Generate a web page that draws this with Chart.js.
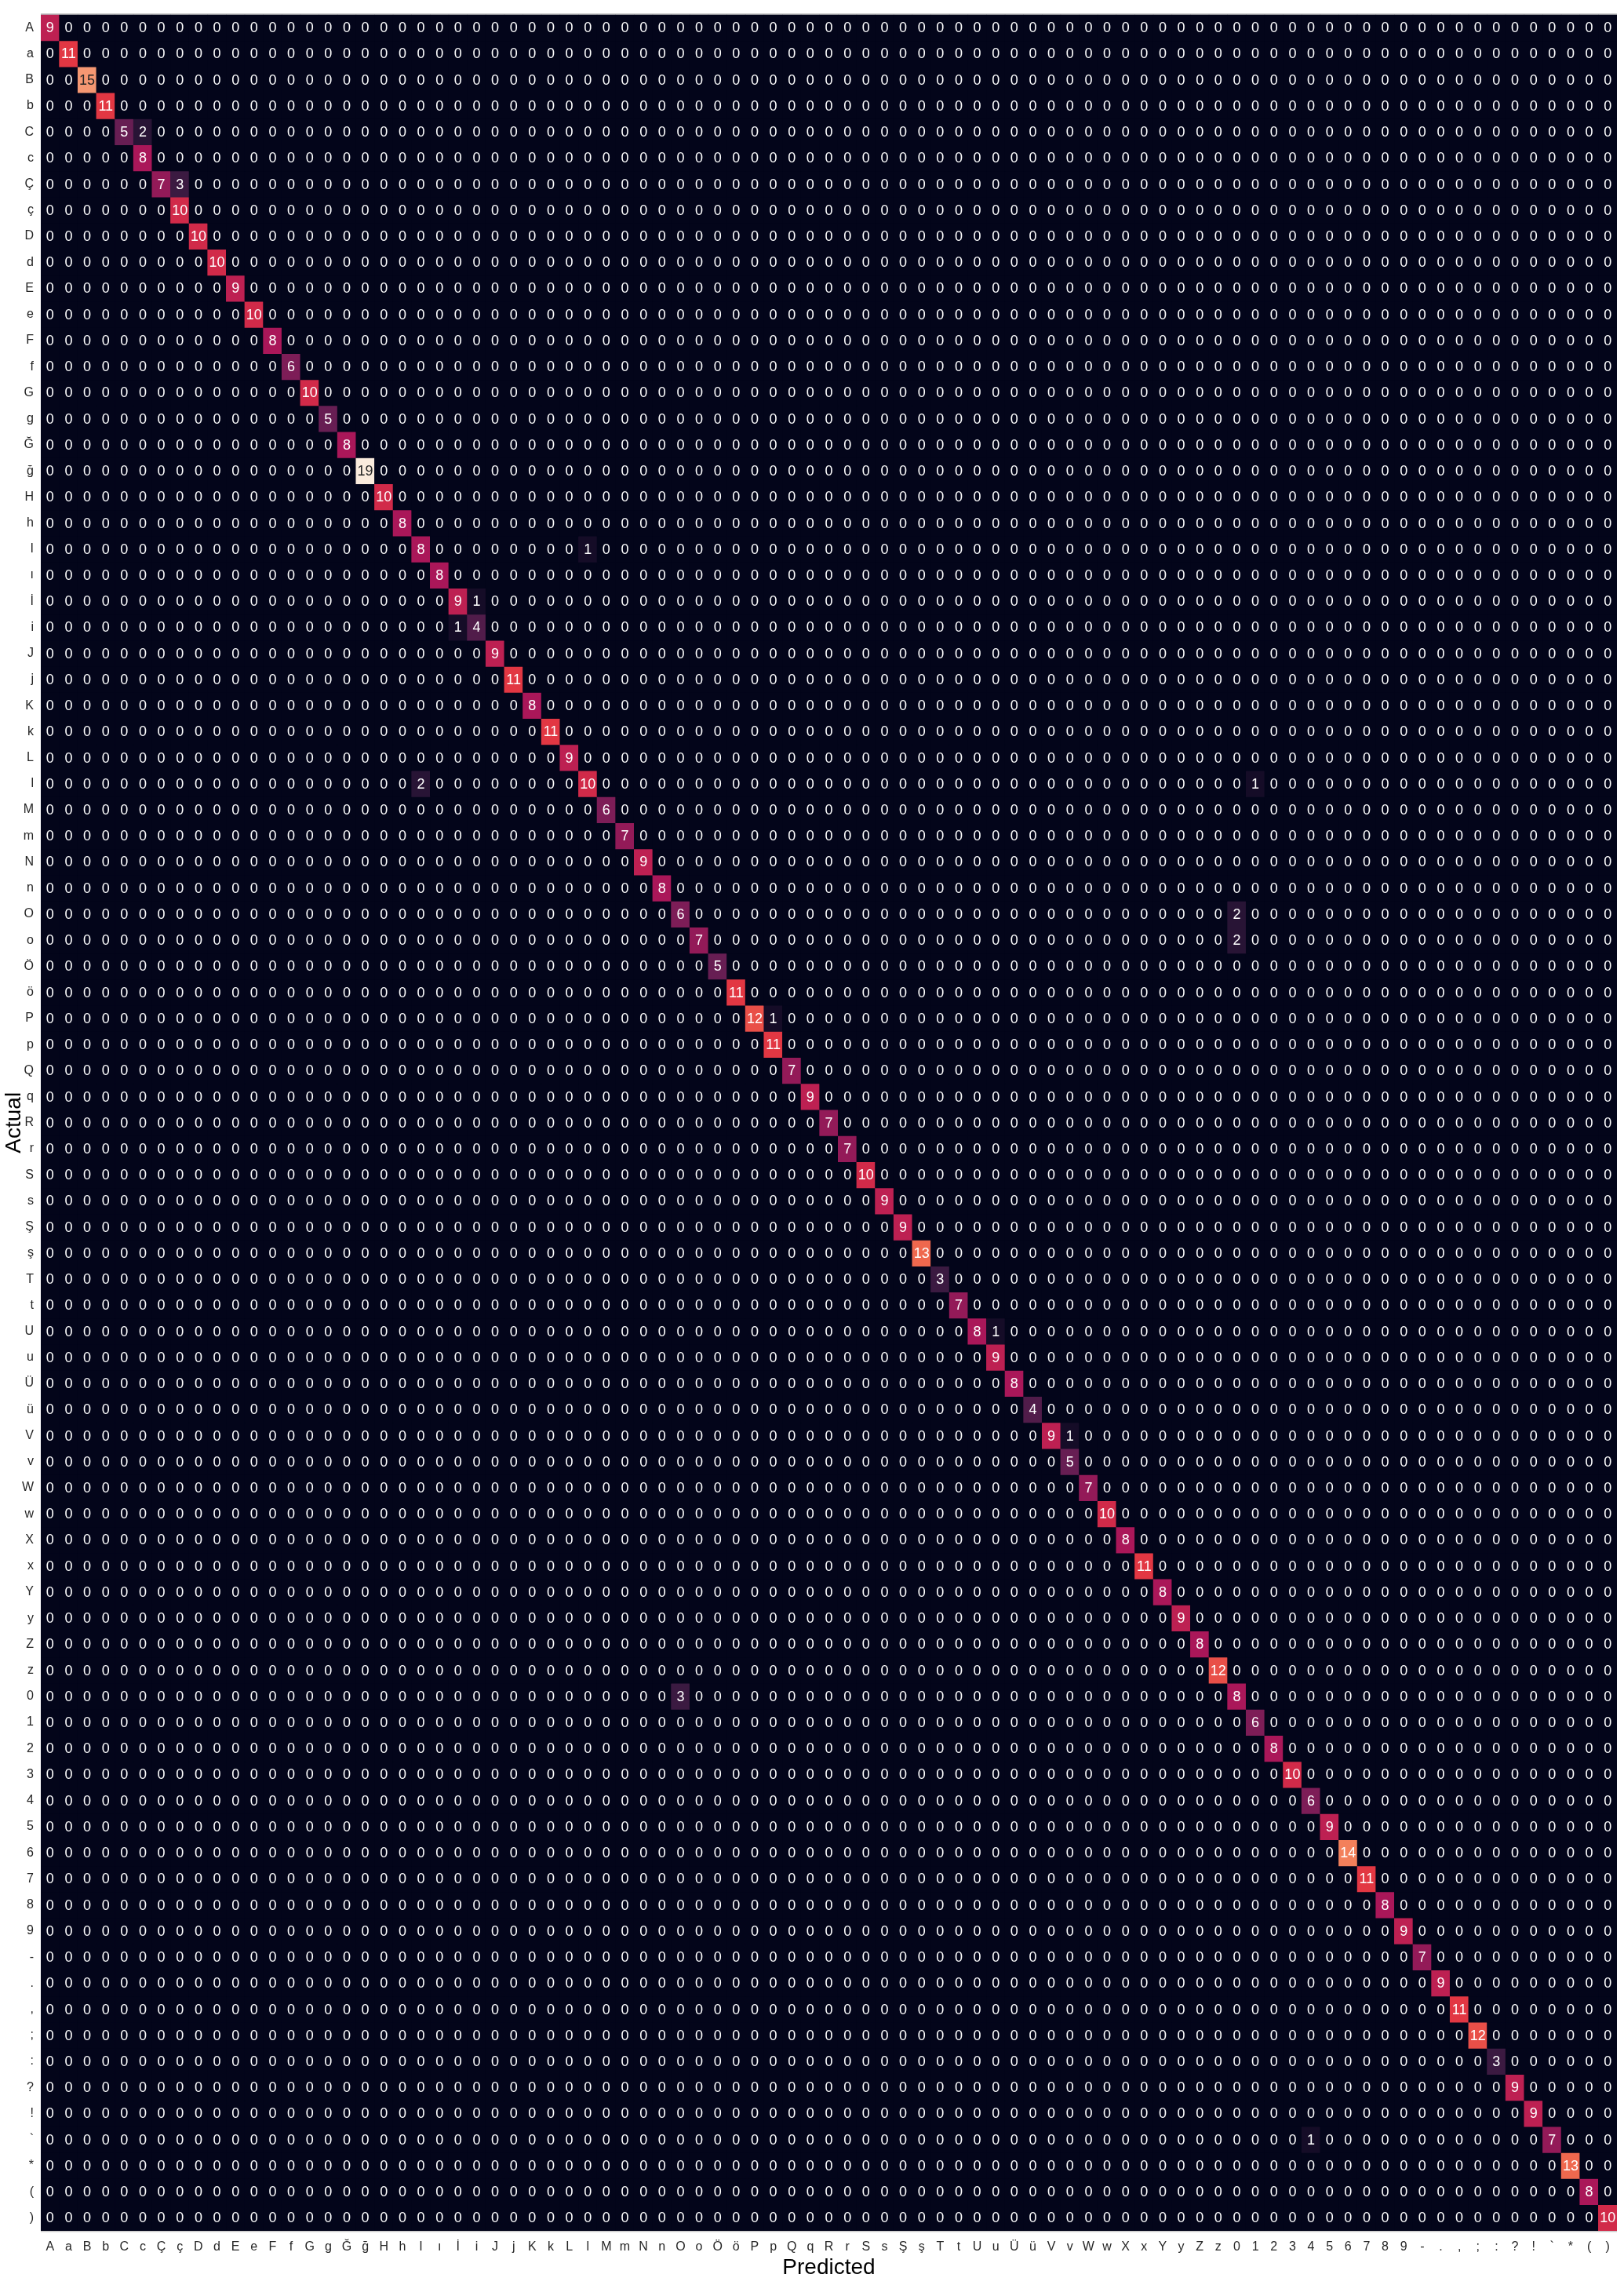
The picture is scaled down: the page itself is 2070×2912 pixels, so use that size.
<!DOCTYPE html>
<html>
<head>
<meta charset="utf-8">
<script src="https://cdn.jsdelivr.net/npm/chart.js@4.4.1/dist/chart.umd.min.js"></script>
<style>
  html, body { margin: 0; padding: 0; background: #ffffff; }
  canvas { display: block; }
</style>
</head>
<body>
<canvas id="c" width="2070" height="2912"></canvas>
<script>
// ---- data ----
const actualLabels = ['A','a','B','b','C','c','Ç','ç','D','d','E','e','F','f','G','g','Ğ','ğ','H','h','I','ı','İ','i','J','j','K','k','L','l','M','m','N','n','O','o','Ö','ö','P','p','Q','q','R','r','S','s','Ş','ş','T','t','U','u','Ü','ü','V','v','W','w','X','x','Y','y','Z','z','0','1','2','3','4','5','6','7','8','9','-','.',',',';',':','?','!','`','*','(',')'];
const predictedLabels = ['A','a','B','b','C','c','Ç','ç','D','d','E','e','F','f','G','g','Ğ','ğ','H','h','I','ı','İ','i','J','j','K','k','L','l','M','m','N','n','O','o','Ö','ö','P','p','Q','q','R','r','S','s','Ş','ş','T','t','U','u','Ü','ü','V','v','W','w','X','x','Y','y','Z','z','0','1','2','3','4','5','6','7','8','9','-','.',',',';',':','?','!','`','*','(',')'];
// correct predictions (diagonal), in label order
const diagonalCounts = [9,11,15,11,5,8,7,10,10,10, 9,10,8,6,10,5,8,19,10,8, 8,8,9,4,9,11,8,11,9,10, 6,7,9,8,6,7,5,11,12,11, 7,9,7,7,10,9,9,13,3,7, 8,9,8,4,9,5,7,10,8,11, 8,9,8,12,8,6,8,10,6,9, 14,11,8,9,7,9,11,12,3,9, 9,7,13,8,10];
// misclassifications: [actual, predicted, count]
const offDiagonal = [
  ['C','c',2], ['Ç','ç',3], ['I','l',1], ['İ','i',1], ['i','İ',1],
  ['l','I',2], ['l','1',1], ['O','0',2], ['o','0',2], ['P','p',1],
  ['U','u',1], ['V','v',1], ['0','O',3], ['`','4',1]
];
const xTitle = 'Predicted';
const yTitle = 'Actual';

// ---- build matrix ----
const matrix = actualLabels.map((_, i) => predictedLabels.map((_, j) => (i === j ? diagonalCounts[i] : 0)));
offDiagonal.forEach(([a, p, v]) => { matrix[actualLabels.indexOf(a)][predictedLabels.indexOf(p)] = v; });
const vmax = Math.max(...matrix.flat());
const vmin = 0;

// ---- rocket colormap ----
const rocket = [
  [0/7, [3,5,26]], [1/7, [53,25,62]], [2/7, [112,31,87]], [3/7, [173,23,89]],
  [4/7, [225,51,66]], [5/7, [243,118,81]], [6/7, [246,180,143]], [7/7, [250,235,221]]
];
function rocketRGB(t) {
  t = Math.max(0, Math.min(1, t));
  for (let k = 0; k < rocket.length - 1; k++) {
    const [t0, c0] = rocket[k], [t1, c1] = rocket[k + 1];
    if (t <= t1) {
      const f = (t - t0) / (t1 - t0);
      return c0.map((c, m) => Math.round(c + (c1[m] - c) * f));
    }
  }
  return rocket[rocket.length - 1][1];
}
function cellRGB(v) { return rocketRGB((v - vmin) / (vmax - vmin)); }
function rgbStr(c) { return `rgb(${c[0]},${c[1]},${c[2]})`; }
function textColor(c) {
  const lin = c.map(x => { x /= 255; return x <= 0.03928 ? x / 12.92 : Math.pow((x + 0.055) / 1.055, 2.4); });
  const lum = 0.2126 * lin[0] + 0.7152 * lin[1] + 0.0722 * lin[2];
  return lum > 0.408 ? '#262626' : '#ffffff';
}

const FONT = "'Liberation Sans Narrow', 'Liberation Sans', Arial, sans-serif";
Chart.defaults.font.family = FONT;
Chart.defaults.color = '#262626';

const datasets = actualLabels.map((lab, i) => ({
  label: lab,
  data: predictedLabels.map(() => [i, i + 1]),
  backgroundColor: matrix[i].map(v => rgbStr(cellRGB(v))),
  borderWidth: 0,
  grouped: false,
  barPercentage: 1,
  categoryPercentage: 1
}));

const bgPlugin = {
  id: 'heatBg',
  beforeDatasetsDraw(chart) {
    const { ctx, chartArea: a } = chart;
    ctx.save();
    ctx.fillStyle = rgbStr(cellRGB(vmin));
    ctx.fillRect(a.left, a.top, a.right - a.left, a.bottom - a.top);
    ctx.restore();
  }
};
const annotPlugin = {
  id: 'annot',
  afterDatasetsDraw(chart) {
    const { ctx, chartArea: a } = chart;
    ctx.save();
    ctx.font = `18px ${FONT}`;
    ctx.textAlign = 'center';
    ctx.textBaseline = 'middle';
    chart.data.datasets.forEach((ds, i) => {
      const meta = chart.getDatasetMeta(i);
      meta.data.forEach((bar, j) => {
        const p = bar.getProps(['x', 'y', 'base'], true);
        const v = matrix[i][j];
        ctx.fillStyle = textColor(cellRGB(v));
        ctx.fillText(String(v), p.x, (p.y + p.base) / 2 + 1);
      });
    });
    // thin frame lines top and bottom
    ctx.strokeStyle = '#c8c8c8';
    ctx.lineWidth = 1.5;
    ctx.beginPath();
    ctx.moveTo(a.left, a.top - 0.75); ctx.lineTo(a.right, a.top - 0.75);
    ctx.moveTo(a.left, a.bottom + 0.75); ctx.lineTo(a.right, a.bottom + 0.75);
    ctx.stroke();
    ctx.restore();
  }
};

new Chart(document.getElementById('c'), {
  type: 'bar',
  data: { labels: predictedLabels, datasets },
  options: {
    responsive: false,
    devicePixelRatio: 1,
    animation: false,
    layout: { padding: { left: 0, right: 9, top: 18, bottom: 0 } },
    plugins: { legend: { display: false }, tooltip: { enabled: false } },
    scales: {
      x: {
        type: 'category',
        offset: true,
        grid: { display: false, drawTicks: false },
        border: { display: false },
        ticks: { autoSkip: false, maxRotation: 0, minRotation: 0, padding: 11, font: { size: 16 }, color: '#262626' },
        title: { display: true, text: xTitle, font: { size: 28 }, color: '#000000', padding: { top: 0, bottom: 5 } },
        afterFit(scale) { scale.height = 69; }
      },
      y: {
        type: 'linear',
        reverse: true,
        min: 0,
        max: actualLabels.length,
        grid: { display: false, drawTicks: false },
        border: { display: false },
        afterBuildTicks(scale) { scale.ticks = actualLabels.map((_, i) => ({ value: i + 0.5 })); },
        ticks: {
          autoSkip: false,
          padding: 9,
          font: { size: 16 },
          color: '#262626',
          callback: (value, index) => actualLabels[index]
        },
        title: { display: true, text: yTitle, font: { size: 28 }, color: '#000000', padding: { top: 1, bottom: 0 } },
        afterFit(scale) { scale.width = 52; }
      }
    }
  },
  plugins: [bgPlugin, annotPlugin]
});
</script>
</body>
</html>
